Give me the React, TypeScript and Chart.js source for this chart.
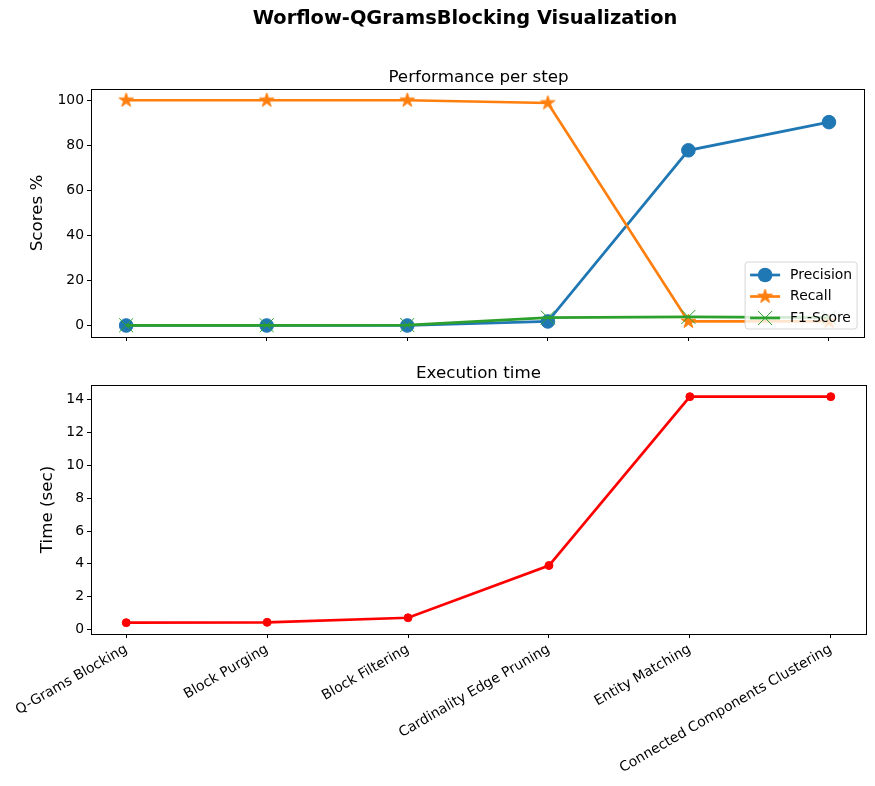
import React, { useEffect, useRef } from 'react';
import { Chart, registerables } from 'chart.js';
Chart.register(...registerables);

const steps = [
  'Q-Grams Blocking',
  'Block Purging',
  'Block Filtering',
  'Cardinality Edge Pruning',
  'Entity Matching',
  'Connected Components Clustering',
];
const precision = [0.1, 0.1, 0.1, 1.9, 77.8, 90.3];
const recall = [100, 100, 100, 98.8, 1.9, 1.9];
const f1 = [0.2, 0.2, 0.3, 3.6, 3.9, 3.6];
const times = [0.42, 0.44, 0.72, 3.9, 14.18, 14.18];
const scoreTicks = [0, 20, 40, 60, 80, 100];
const timeTicks = [0, 2, 4, 6, 8, 10, 12, 14];

const FONT = 'DejaVu Sans';
const BLUE = '#1f77b4';
const ORANGE = '#ff7f0e';
const GREEN = '#2ca02c';
const LW = 2.7;

function makeStar(color: string, outer: number): HTMLCanvasElement {
  const size = Math.ceil(outer * 2 + 4);
  const c = document.createElement('canvas');
  c.width = size;
  c.height = size;
  const ctx = c.getContext('2d')!;
  const cx = size / 2;
  const cy = size / 2;
  const inner = outer * 0.381966;
  ctx.beginPath();
  for (let i = 0; i < 10; i++) {
    const r = i % 2 === 0 ? outer : inner;
    const a = -Math.PI / 2 + (i * Math.PI) / 5;
    const x = cx + r * Math.cos(a);
    const y = cy + r * Math.sin(a);
    if (i === 0) ctx.moveTo(x, y);
    else ctx.lineTo(x, y);
  }
  ctx.closePath();
  ctx.fillStyle = color;
  ctx.fill();
  ctx.strokeStyle = color;
  ctx.lineWidth = 1;
  ctx.stroke();
  return c;
}

const spinePlugin = {
  id: 'spines',
  afterDraw(chart: any) {
    const { ctx, chartArea: ca } = chart;
    ctx.save();
    ctx.strokeStyle = '#000';
    ctx.lineWidth = 1;
    ctx.strokeRect(Math.round(ca.left) + 0.5, Math.round(ca.top) + 0.5, Math.round(ca.right - ca.left), Math.round(ca.bottom - ca.top));
    ctx.restore();
  },
};

function makeLegendPlugin(star: HTMLCanvasElement) {
  return {
    id: 'mplLegend',
    afterDatasetsDraw(chart: any) {
      const { ctx, chartArea: ca } = chart;
      const w = 112;
      const h = 67;
      const x = ca.right - 7 - w;
      const y = ca.bottom - 8 - h;
      ctx.save();
      ctx.beginPath();
      const r = 3;
      ctx.moveTo(x + r, y);
      ctx.lineTo(x + w - r, y);
      ctx.quadraticCurveTo(x + w, y, x + w, y + r);
      ctx.lineTo(x + w, y + h - r);
      ctx.quadraticCurveTo(x + w, y + h, x + w - r, y + h);
      ctx.lineTo(x + r, y + h);
      ctx.quadraticCurveTo(x, y + h, x, y + h - r);
      ctx.lineTo(x, y + r);
      ctx.quadraticCurveTo(x, y, x + r, y);
      ctx.closePath();
      ctx.fillStyle = 'rgba(255,255,255,0.8)';
      ctx.fill();
      ctx.strokeStyle = '#d6d6d6';
      ctx.lineWidth = 1;
      ctx.stroke();

      const entries = [
        { label: 'Precision', color: BLUE, kind: 'circle' },
        { label: 'Recall', color: ORANGE, kind: 'star' },
        { label: 'F1-Score', color: GREEN, kind: 'x' },
      ];
      const lx0 = x + 5;
      const lx1 = x + 35;
      const mx = (lx0 + lx1) / 2;
      entries.forEach((e, i) => {
        const cy = y + 13 + i * 21.5;
        ctx.strokeStyle = e.color;
        ctx.lineWidth = LW;
        ctx.beginPath();
        ctx.moveTo(lx0, cy);
        ctx.lineTo(lx1, cy);
        ctx.stroke();
        if (e.kind === 'circle') {
          ctx.beginPath();
          ctx.arc(mx, cy, 7.3, 0, Math.PI * 2);
          ctx.fillStyle = e.color;
          ctx.fill();
        } else if (e.kind === 'star') {
          ctx.drawImage(star, mx - star.width / 2, cy - star.height / 2);
        } else {
          ctx.lineWidth = 1;
          ctx.beginPath();
          ctx.moveTo(mx - 7, cy - 7);
          ctx.lineTo(mx + 7, cy + 7);
          ctx.moveTo(mx - 7, cy + 7);
          ctx.lineTo(mx + 7, cy - 7);
          ctx.stroke();
        }
        ctx.fillStyle = '#000';
        ctx.font = `13.9px "${FONT}"`;
        ctx.textBaseline = 'middle';
        ctx.textAlign = 'left';
        ctx.fillText(e.label, x + 45, cy);
      });
      ctx.restore();
    },
  };
}

const tickFont = { family: FONT, size: 13.9 };
const titleFont = { family: FONT, size: 16.7 };

function xScale(showLabels: boolean, height: number) {
  return {
    type: 'linear' as const,
    min: -0.25,
    max: steps.length - 1 + 0.25,
    afterBuildTicks: (s: any) => {
      s.ticks = steps.map((_, i) => ({ value: i }));
    },
    afterFit: (s: any) => {
      s.height = height;
    },
    border: { display: false },
    grid: { display: true, drawOnChartArea: false, drawTicks: true, tickLength: 4, color: '#000', lineWidth: 1 },
    ticks: {
      display: showLabels,
      autoSkip: false,
      maxRotation: 30,
      minRotation: 30,
      padding: 3,
      color: '#000',
      font: tickFont,
      callback: (v: any) => steps[Math.round(v)] ?? '',
    },
  };
}

function yScale(min: number, max: number, tickVals: number[], title: string, titlePad: number) {
  return {
    type: 'linear' as const,
    min,
    max,
    afterBuildTicks: (s: any) => {
      s.ticks = tickVals.map((v) => ({ value: v }));
    },
    afterFit: (s: any) => {
      s.width = 91;
    },
    border: { display: false },
    grid: { display: true, drawOnChartArea: false, drawTicks: true, tickLength: 4, color: '#000', lineWidth: 1 },
    ticks: { padding: 3, color: '#000', font: tickFont, callback: (v: any) => String(v) },
    title: { display: true, text: title, color: '#000', font: titleFont, padding: { top: titlePad, bottom: 0 } },
  };
}

export default function App() {
  const topRef = useRef<HTMLCanvasElement>(null);
  const botRef = useRef<HTMLCanvasElement>(null);

  useEffect(() => {
    const star = makeStar(ORANGE, 7.5);
    const pts = (arr: number[]) => arr.map((v, i) => ({ x: i, y: v }));
    const top = new Chart(topRef.current!, {
      type: 'line',
      data: {
        datasets: [
          {
            label: 'Precision',
            data: pts(precision),
            borderColor: BLUE,
            backgroundColor: BLUE,
            borderWidth: LW,
            pointRadius: 6.8,
            pointBorderWidth: 1,
            pointStyle: 'circle',
            order: 2,
          },
          {
            label: 'Recall',
            data: pts(recall),
            borderColor: ORANGE,
            backgroundColor: ORANGE,
            borderWidth: LW,
            pointStyle: star as any,
            pointRadius: 7,
            order: 1,
          },
          {
            label: 'F1-Score',
            data: pts(f1),
            borderColor: GREEN,
            backgroundColor: GREEN,
            borderWidth: LW,
            pointStyle: 'crossRot',
            pointRadius: 9.9,
            pointBorderWidth: 1,
            order: 0,
          },
        ],
      },
      options: {
        responsive: false,
        animation: false,
        devicePixelRatio: 1,
        layout: { padding: { top: 89, right: 9, left: 0, bottom: 0 } },
        plugins: { legend: { display: false }, tooltip: { enabled: false }, title: { display: false } },
        elements: { line: { tension: 0 } },
        scales: {
          x: xScale(false, 13) as any,
          y: yScale(-5, 105, scoreTicks, 'Scores %', 28) as any,
        },
      },
      plugins: [spinePlugin, makeLegendPlugin(star)],
    });

    const bot = new Chart(botRef.current!, {
      type: 'line',
      data: {
        datasets: [
          {
            label: 'Time',
            data: pts(times),
            borderColor: 'red',
            backgroundColor: 'red',
            borderWidth: LW,
            pointRadius: 4,
            pointBorderWidth: 1,
          },
        ],
      },
      options: {
        responsive: false,
        animation: false,
        devicePixelRatio: 1,
        layout: { padding: { top: 35, right: 9, left: 0, bottom: 0 } },
        plugins: { legend: { display: false }, tooltip: { enabled: false }, title: { display: false } },
        elements: { line: { tension: 0 } },
        scales: {
          x: xScale(true, 152) as any,
          y: yScale(-0.27, 14.89, timeTicks, 'Time (sec)', 38) as any,
        },
      },
      plugins: [spinePlugin],
    });

    return () => {
      top.destroy();
      bot.destroy();
    };
  }, []);

  const titleStyle = (cx: number, cy: number, size: number, bold: boolean): React.CSSProperties => ({
    position: 'absolute',
    left: cx,
    top: cy - size / 2,
    transform: 'translateX(-50%)',
    fontFamily: FONT,
    fontSize: size,
    fontWeight: bold ? 'bold' : 'normal',
    lineHeight: 1,
    whiteSpace: 'nowrap',
    color: '#000',
  });

  return (
    <div style={{ position: 'absolute', left: 0, top: 0, width: 875, height: 786, background: '#fff', fontFamily: FONT }}>
      <canvas ref={topRef} width={875} height={350} style={{ position: 'absolute', left: 0, top: 0, width: 875, height: 350 }} />
      <canvas ref={botRef} width={875} height={436} style={{ position: 'absolute', left: 0, top: 350, width: 875, height: 436 }} />
      <div style={titleStyle(465, 18, 19.4, true)}>Worflow-QGramsBlocking Visualization</div>
      <div style={titleStyle(478.5, 76, 16.7, false)}>Performance per step</div>
      <div style={titleStyle(478.5, 372, 16.7, false)}>Execution time</div>
    </div>
  );
}
